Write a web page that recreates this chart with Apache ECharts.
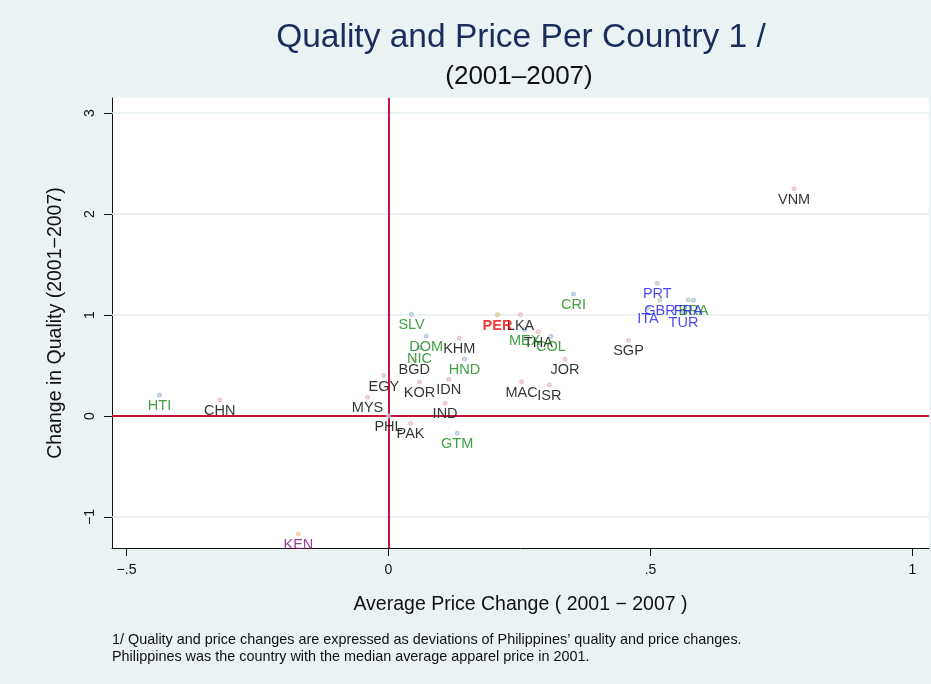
<!DOCTYPE html>
<html>
<head>
<meta charset="utf-8">
<script src="https://cdn.jsdelivr.net/npm/echarts@6/dist/echarts.min.js"></script>
<style>
  html, body { margin: 0; padding: 0; background: #eaf2f3; }
  #main { width: 931px; height: 684px; }
</style>
</head>
<body>
<div id="main"></div>
<script>
// country codes
var countries = ['VNM','KEN','HTI','CHN','MYS','EGY','PHL','PAK','GTM','IND','KOR','IDN','BGD','NIC','HND','DOM','KHM','SLV','PER','LKA','CRI','MEX','THA','COL','JOR','MAC','ISR','SGP','PRT','GBR','FRA','BRA','ITA','TUR'];
// average price change 2001-2007 (x)
var priceChange = [0.774,-0.172,-0.437,-0.322,-0.040,-0.009,0,0.042,0.131,0.108,0.059,0.115,0.049,0.059,0.145,0.072,0.135,0.044,0.208,0.252,0.353,0.260,0.286,0.310,0.337,0.254,0.307,0.458,0.513,0.518,0.572,0.582,0.495,0.563];
// change in quality 2001-2007 (y)
var qualityChange = [2.25,-1.168,0.208,0.158,0.185,0.40,0,-0.072,-0.171,0.126,0.337,0.363,0.564,0.676,0.567,0.792,0.769,1.007,1.003,1.003,1.208,0.856,0.835,0.789,0.561,0.340,0.307,0.750,1.314,1.146,1.151,1.146,1.069,1.030];
// colour group of each country label
var groups = ['asia','kenya','latam','asia','asia','asia','asia','asia','latam','asia','asia','asia','asia','latam','latam','latam','asia','latam','peru','asia','latam','latam','asia','latam','asia','asia','asia','asia','europe','europe','europe','latam','europe','europe'];

var xTicks = [-0.5, 0, 0.5, 1];
var yTicks = [-1, 0, 1, 2, 3];

var groupStyle = {
  asia:   { label: '#000000', marker: '#eab9c4', bold: false },
  latam:  { label: '#148814', marker: '#a9c3e0', bold: false },
  europe: { label: '#1a1af8', marker: '#bcccb8', bold: false },
  peru:   { label: '#f00a0a', marker: '#d6c28f', bold: true },
  kenya:  { label: '#821082', marker: '#f5c69e', bold: false }
};

function fmt(v) {
  var s = String(v);
  s = s.replace('0.', '.');
  return s.replace('-', '\u2212');
}

var chartDom = document.getElementById('main');
var myChart = echarts.init(chartDom);

var series = [];
Object.keys(groupStyle).forEach(function (g) {
  var st = groupStyle[g];
  var data = [];
  countries.forEach(function (c, i) {
    if (groups[i] === g) data.push({ value: [priceChange[i], qualityChange[i]], name: c });
  });
  series.push({
    type: 'scatter',
    name: g,
    data: data,
    symbol: 'emptyCircle',
    symbolSize: 3,
    itemStyle: { color: st.marker, borderColor: st.marker, borderWidth: 1 },
    label: {
      show: true,
      position: 'bottom',
      distance: 1,
      formatter: '{b}',
      color: st.label,
      fontSize: 14.5,
      fontFamily: 'Liberation Sans, Arial, sans-serif',
      fontWeight: st.bold ? 'bold' : 'normal'
    },
    z: 5
  });
});

// grid lines and the two zero reference lines
series.push({
  type: 'scatter',
  data: [],
  silent: true,
  z: 1,
  markLine: {
    silent: true,
    symbol: 'none',
    label: { show: false },
    lineStyle: { color: '#e3ecee', width: 1.5, type: 'solid' },
    data: yTicks.filter(function (v) { return v !== 0; }).map(function (v) { return { yAxis: v }; })
  }
});
series.push({
  type: 'scatter',
  data: [],
  silent: true,
  z: 2,
  markLine: {
    silent: true,
    symbol: 'none',
    label: { show: false },
    lineStyle: { color: '#c8143c', width: 2, type: 'solid' },
    data: [{ xAxis: 0 }, { yAxis: 0 }]
  }
});

var option = {
  backgroundColor: '#eaf2f3',
  animation: false,
  textStyle: { fontFamily: 'Liberation Sans, Arial, sans-serif' },
  grid: {
    left: 112,
    right: 2,
    top: 98,
    bottom: 136,
    show: true,
    backgroundColor: '#ffffff',
    borderWidth: 0
  },
  xAxis: {
    type: 'value',
    min: -0.5277,
    max: 1.0315,
    name: 'Average Price Change ( 2001 \u2212 2007 )',
    nameLocation: 'middle',
    nameGap: 47,
    nameTextStyle: { fontSize: 19.5, color: '#111' },
    axisLine: { show: true, onZero: false, lineStyle: { color: '#111', width: 1 } },
    axisTick: { show: true, length: 8, customValues: xTicks, lineStyle: { color: '#111' } },
    axisLabel: { customValues: xTicks, formatter: fmt, fontSize: 14, color: '#111', margin: 15 },
    splitLine: { show: false }
  },
  yAxis: {
    type: 'value',
    min: -1.307,
    max: 3.149,
    name: 'Change in Quality (2001\u22122007)',
    nameLocation: 'middle',
    nameGap: 46,
    nameTextStyle: { fontSize: 19.5, color: '#111' },
    axisLine: { show: true, onZero: false, lineStyle: { color: '#111', width: 1 } },
    axisTick: { show: true, length: 8, customValues: yTicks, lineStyle: { color: '#111' } },
    axisLabel: { customValues: yTicks, formatter: fmt, fontSize: 14, color: '#111', margin: 15, rotate: 90 },
    splitLine: { show: false }
  },
  graphic: [
    {
      type: 'text',
      x: 521, y: 38,
      style: {
        text: 'Quality and Price Per Country 1 /',
        fill: '#1b2d5c',
        font: '33.5px Liberation Sans, Arial, sans-serif',
        textAlign: 'center',
        textVerticalAlign: 'middle'
      }
    },
    {
      type: 'text',
      x: 519, y: 77,
      style: {
        text: '(2001\u20132007)',
        fill: '#111',
        font: '26px Liberation Sans, Arial, sans-serif',
        textAlign: 'center',
        textVerticalAlign: 'middle'
      }
    },
    {
      type: 'text',
      x: 112, y: 632,
      style: {
        text: '1/ Quality and price changes are expressed as deviations of Philippines\u2019 quality and price changes.\nPhilippines was the country with the median average apparel price in 2001.',
        fill: '#111',
        font: '14.4px Liberation Sans, Arial, sans-serif',
        lineHeight: 17
      }
    }
  ],
  series: series
};

option && myChart.setOption(option);
</script>
</body>
</html>
